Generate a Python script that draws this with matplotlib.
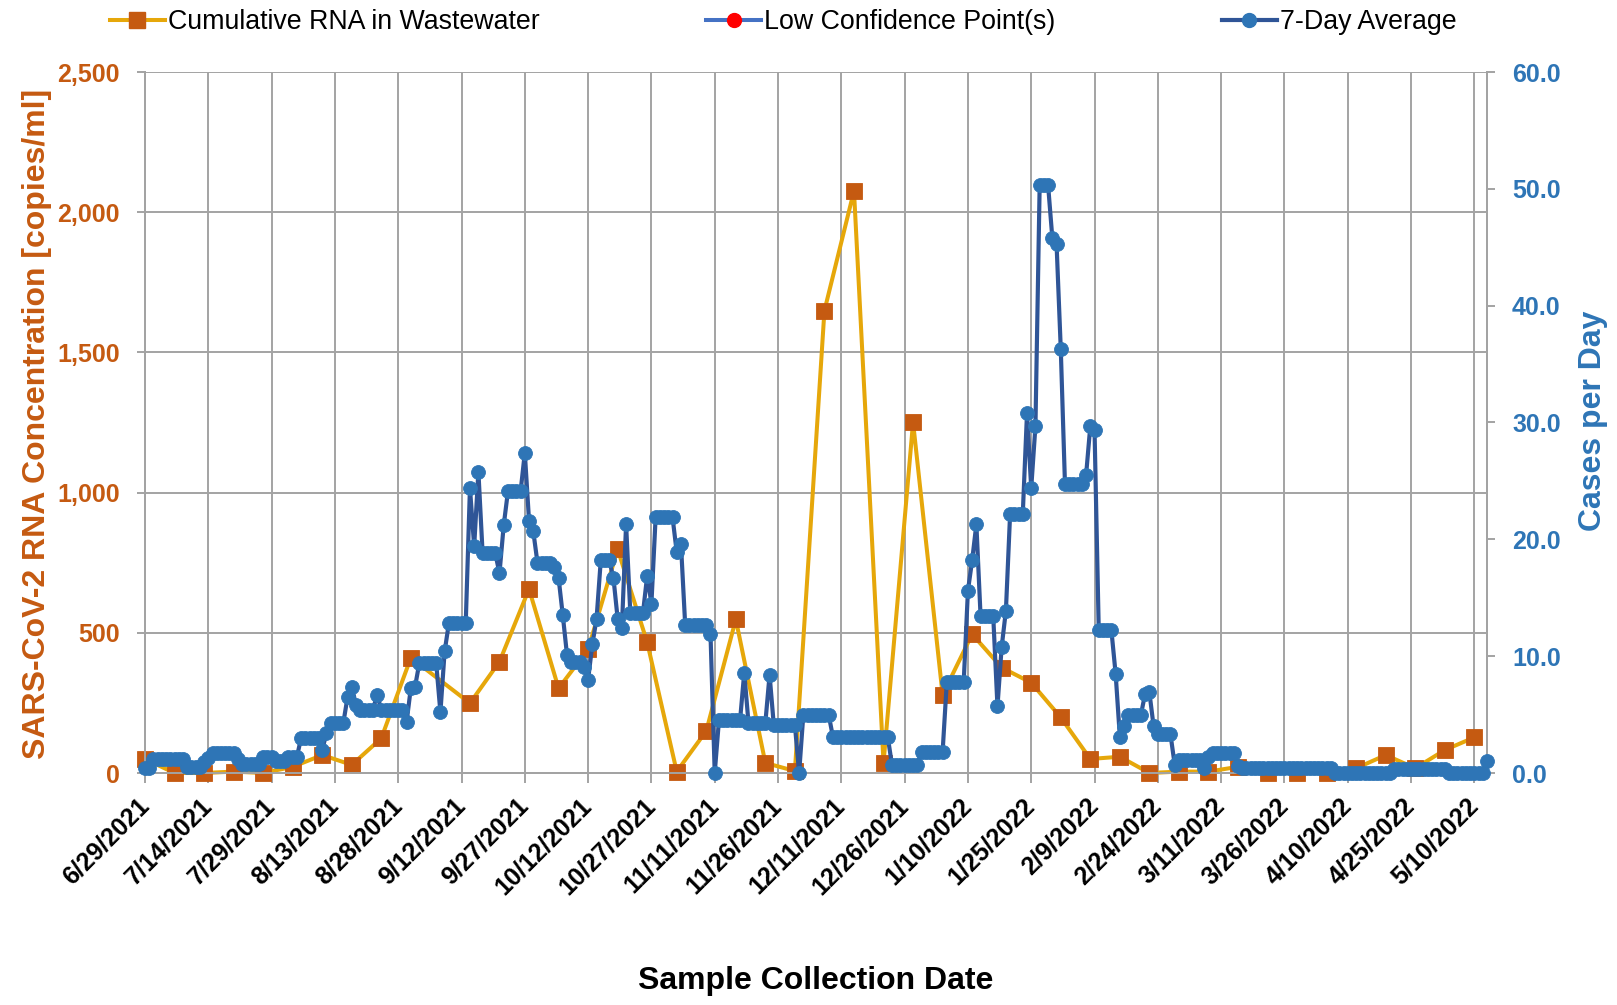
import matplotlib
matplotlib.use('Agg')
import matplotlib.pyplot as plt
import pandas as pd
from matplotlib.lines import Line2D
from matplotlib.ticker import FuncFormatter

plt.rcParams['font.family'] = ['Liberation Sans', 'DejaVu Sans']

# ---------------- data ----------------
rna_dates = ['2021-06-29', '2021-07-06', '2021-07-13', '2021-07-20', '2021-07-27',
             '2021-08-03', '2021-08-10', '2021-08-17', '2021-08-24', '2021-08-31',
             '2021-09-14', '2021-09-21', '2021-09-28', '2021-10-05', '2021-10-12',
             '2021-10-19', '2021-10-26', '2021-11-02', '2021-11-09', '2021-11-16',
             '2021-11-23', '2021-11-30', '2021-12-07', '2021-12-14', '2021-12-21',
             '2021-12-28', '2022-01-04', '2022-01-11', '2022-01-18', '2022-01-25',
             '2022-02-01', '2022-02-08', '2022-02-15', '2022-02-22', '2022-03-01',
             '2022-03-08', '2022-03-15', '2022-03-22', '2022-03-29', '2022-04-05',
             '2022-04-12', '2022-04-19', '2022-04-26', '2022-05-03', '2022-05-10']
rna_values = [50, 0, 0, 5, 0,
              22, 64, 29, 124, 411,
              249, 397, 656, 302, 441,
              798, 466, 5, 150, 548,
              36, 7, 1649, 2076, 36,
              1251, 279, 495, 376, 322,
              198, 50, 58, 0, 5,
              5, 22, 0, 0, 0,
              17, 64, 17, 82, 127]

cases_start = '2021-06-29'
cases_7day = [
    0.4, 0.4, 1.2, 1.2, 1.2, 1.2, 1.2, 1.2, 1.2, 1.2,
    0.5, 0.5, 0.5, 0.5, 0.9, 1.3, 1.7, 1.7, 1.7, 1.7,
    1.7, 1.7, 1.2, 0.8, 0.8, 0.8, 0.8, 0.8, 1.4, 1.4,
    1.4, 1.0, 1.0, 1.0, 1.4, 1.4, 1.4, 3.0, 3.0, 3.0,
    3.0, 3.0, 2.0, 3.4, 4.3, 4.3, 4.3, 4.3, 6.5, 7.4,
    5.8, 5.4, 5.4, 5.4, 5.4, 6.7, 5.4, 5.4, 5.4, 5.4,
    5.4, 5.4, 4.4, 7.3, 7.4, 9.4, 9.4, 9.4, 9.4, 9.4,
    5.2, 10.4, 12.8, 12.8, 12.8, 12.8, 12.8, 24.4, 19.4, 25.8,
    18.8, 18.8, 18.8, 18.8, 17.1, 21.2, 24.1, 24.1, 24.1, 24.1,
    27.4, 21.6, 20.7, 18.0, 18.0, 18.0, 18.0, 17.6, 16.7, 13.5,
    10.1, 9.5, 9.5, 9.5, 9.1, 8.0, 11.0, 13.2, 18.2, 18.2,
    18.2, 16.7, 13.2, 12.4, 21.3, 13.7, 13.7, 13.7, 13.7, 16.9,
    14.5, 21.9, 21.9, 21.9, 21.9, 21.9, 18.9, 19.6, 12.7, 12.7,
    12.7, 12.7, 12.7, 12.7, 11.9, 0.0, 4.5, 4.5, 4.5, 4.5,
    4.5, 4.5, 8.6, 4.3, 4.3, 4.3, 4.3, 4.3, 8.4, 4.1,
    4.1, 4.1, 4.1, 4.1, 4.1, 0.0, 5.0, 5.0, 5.0, 5.0,
    5.0, 5.0, 5.0, 3.1, 3.1, 3.1, 3.1, 3.1, 3.1, 3.1,
    3.1, 3.1, 3.1, 3.1, 3.1, 3.1, 3.1, 0.7, 0.7, 0.7,
    0.7, 0.7, 0.7, 0.7, 1.8, 1.8, 1.8, 1.8, 1.8, 1.8,
    7.8, 7.8, 7.8, 7.8, 7.8, 15.6, 18.2, 21.3, 13.4, 13.4,
    13.4, 13.4, 5.7, 10.8, 13.9, 22.2, 22.2, 22.2, 22.2, 30.8,
    24.4, 29.7, 50.3, 50.3, 50.3, 45.8, 45.3, 36.3, 24.7, 24.7,
    24.7, 24.7, 24.7, 25.5, 29.7, 29.4, 12.2, 12.2, 12.2, 12.2,
    8.5, 3.1, 4.0, 5.0, 5.0, 5.0, 5.0, 6.8, 6.9, 4.0,
    3.3, 3.3, 3.3, 3.3, 0.7, 1.1, 1.1, 1.1, 1.1, 1.1,
    1.1, 0.4, 1.4, 1.7, 1.7, 1.7, 1.7, 1.7, 1.7, 0.6,
    0.4, 0.4, 0.4, 0.4, 0.4, 0.4, 0.4, 0.4, 0.4, 0.4,
    0.4, 0.4, 0.4, 0.4, 0.4, 0.4, 0.4, 0.4, 0.4, 0.4,
    0.4, 0.4, 0.0, 0.0, 0.0, 0.0, 0.0, 0.0, 0.0, 0.0,
    0.0, 0.0, 0.0, 0.0, 0.0, 0.0, 0.3, 0.3, 0.3, 0.3,
    0.3, 0.3, 0.3, 0.3, 0.3, 0.3, 0.3, 0.3, 0.3, 0.0,
    0.0, 0.0, 0.0, 0.0, 0.0, 0.0, 0.0, 0.0, 1.0,
]

tick_labels = ['6/29/2021', '7/14/2021', '7/29/2021', '8/13/2021', '8/28/2021',
               '9/12/2021', '9/27/2021', '10/12/2021', '10/27/2021', '11/11/2021',
               '11/26/2021', '12/11/2021', '12/26/2021', '1/10/2022', '1/25/2022',
               '2/9/2022', '2/24/2022', '3/11/2022', '3/26/2022', '4/10/2022',
               '4/25/2022', '5/10/2022']
x_start = '2021-06-29'
x_end = '2022-05-13'
left_ticks = [0, 500, 1000, 1500, 2000, 2500]
right_ticks = [0, 10, 20, 30, 40, 50, 60]

# ---------------- styles ----------------
ORANGE_LINE = '#E6A70A'
ORANGE_MARK = '#C55A11'
BLUE_LINE = '#2F5597'
BLUE_MARK = '#2E75B6'
GRID = '#A3A3A3'

W, H = 1617, 1005
fig = plt.figure(figsize=(W / 100, H / 100), dpi=100)
ax = fig.add_axes([145 / W, 1 - 773 / H, (1487 - 145) / W, (773 - 72) / H])
ax2 = ax.twinx()

rna_x = pd.to_datetime(rna_dates)
cases_x = pd.date_range(cases_start, periods=len(cases_7day), freq='D')

ax.plot(rna_x, rna_values, color=ORANGE_LINE, lw=2.9, marker='s', ms=12,
        mfc=ORANGE_MARK, mec=ORANGE_MARK, mew=0.6, clip_on=False, zorder=3)
ax2.plot(cases_x, cases_7day, color=BLUE_LINE, lw=3.0, marker='o', ms=10,
         mfc=BLUE_MARK, mec=BLUE_MARK, mew=0.6, clip_on=False, zorder=3)

ticks = pd.to_datetime(tick_labels, format='%m/%d/%Y')
ax.set_xlim(pd.Timestamp(x_start), pd.Timestamp(x_end))
ax.set_xticks(ticks)
ax.set_xticklabels(tick_labels, rotation=45, ha='right', va='center',
                   rotation_mode='anchor', fontsize=18, fontweight='bold')
ax.set_ylim(0, 2500)
ax.set_yticks(left_ticks)
ax.yaxis.set_major_formatter(FuncFormatter(lambda v, p: f'{int(v):,}'))
ax2.set_ylim(0, 60)
ax2.set_yticks(right_ticks)
ax2.yaxis.set_major_formatter(FuncFormatter(lambda v, p: f'{v:.1f}'))

ax.grid(True, color=GRID, lw=1.4)
ax.set_axisbelow(True)
for a in (ax, ax2):
    for s in a.spines.values():
        s.set_color(GRID)
        s.set_linewidth(1.4)
    a.spines['top'].set_visible(False)

ax.tick_params(axis='x', length=7, width=1.4, color=GRID, pad=14, labelcolor='black')
ax.tick_params(axis='y', length=6, width=1.4, color=GRID, pad=12,
               labelsize=18, labelcolor=ORANGE_MARK)
ax2.tick_params(axis='y', length=6, width=1.4, color=GRID, pad=12,
                labelsize=18, labelcolor=BLUE_MARK)
for lab in ax.get_yticklabels():
    lab.set_fontweight('bold')
for lab in ax2.get_yticklabels():
    lab.set_fontweight('bold')

fig.text(45 / W, 1 - 424 / H, 'SARS-CoV-2 RNA Concentration [copies/ml]',
         rotation=90, ha='center', va='baseline', rotation_mode='anchor',
         fontsize=23, fontweight='bold', color=ORANGE_MARK)
fig.text(1601 / W, 1 - 421 / H, 'Cases per Day',
         rotation=90, ha='center', va='baseline', rotation_mode='anchor',
         fontsize=23, fontweight='bold', color=BLUE_MARK)
fig.text(816 / W, 1 - 989 / H, 'Sample Collection Date',
         ha='center', va='baseline', fontsize=23, fontweight='bold', color='black')

handles = [
    Line2D([], [], color=ORANGE_LINE, lw=2.9, marker='s', ms=12,
           mfc=ORANGE_MARK, mec=ORANGE_MARK),
    Line2D([], [], color='#4472C4', lw=2.9, marker='o', ms=10,
           mfc='#FF0000', mec='#FF0000'),
    Line2D([], [], color=BLUE_LINE, lw=3.0, marker='o', ms=10,
           mfc=BLUE_MARK, mec=BLUE_MARK),
]
fig.legend(handles, ['Cumulative RNA in Wastewater', 'Low Confidence Point(s)', '7-Day Average'],
           loc='upper left', bbox_to_anchor=(110 / W, 1 - 9 / H), ncol=3,
           frameon=False, fontsize=19.3, handlelength=2.05, handletextpad=0.12,
           columnspacing=6.2, borderpad=0, borderaxespad=0)

fig.savefig('out.png', dpi=100)
